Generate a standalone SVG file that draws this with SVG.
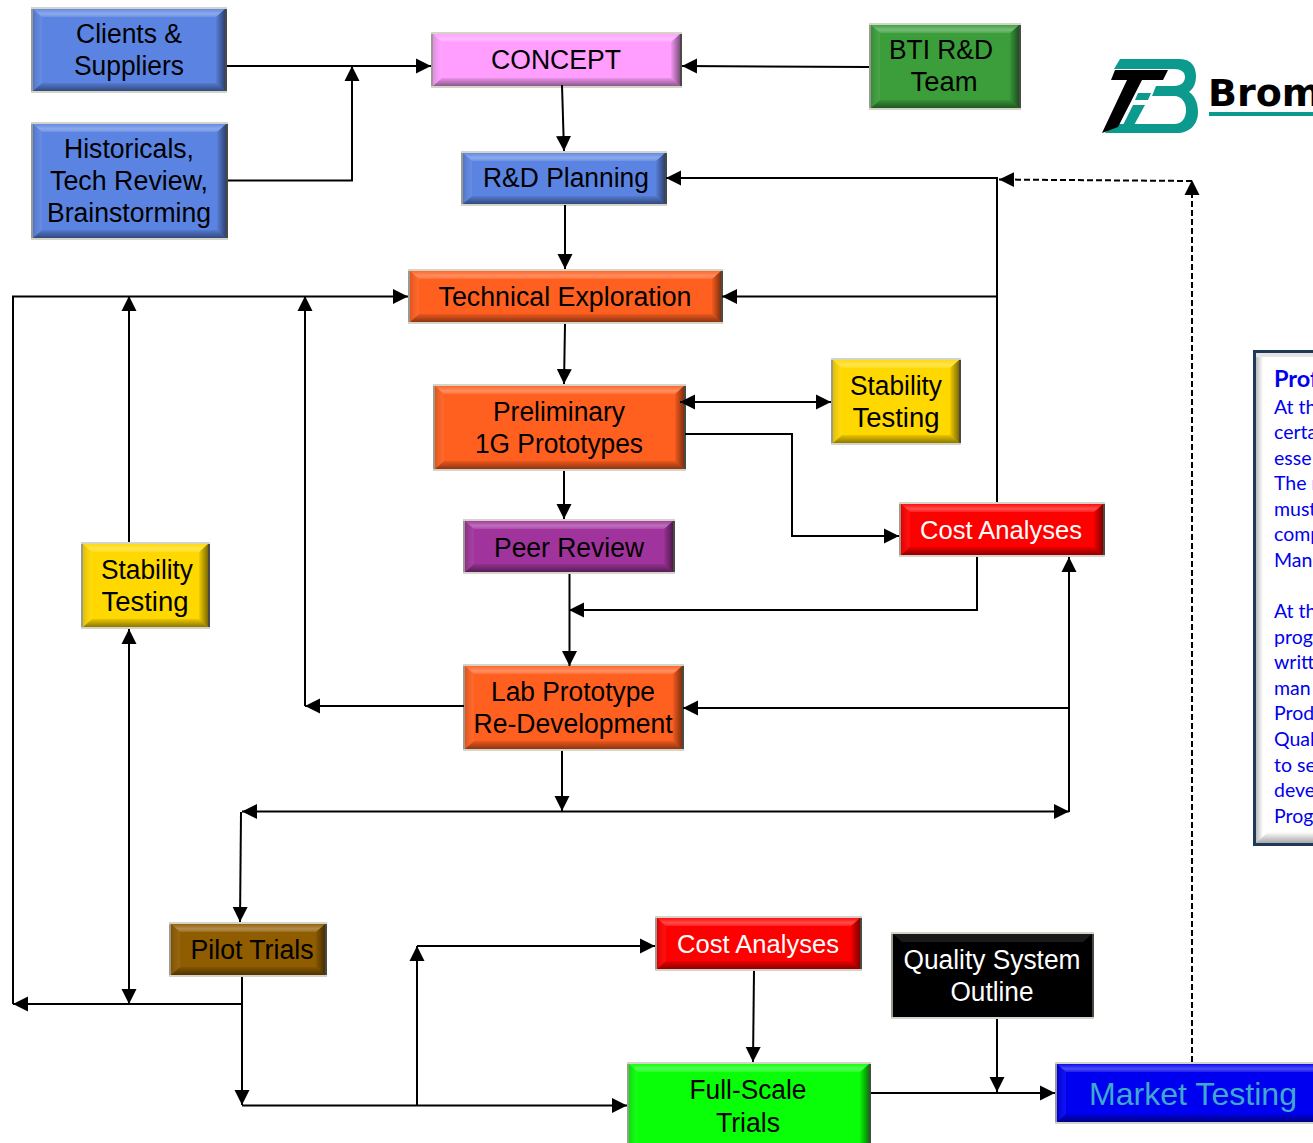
<svg xmlns="http://www.w3.org/2000/svg" width="1313" height="1143" viewBox="0 0 1313 1143">
<style>
text{font-family:"Liberation Sans",Arial,sans-serif;font-size:27px;text-anchor:middle;fill:#000}
.lt{fill:url(#gt)}.ll{fill:url(#gl)}.dk{fill:url(#gb)}.dr{fill:url(#gr)}
.o{fill:#d4d4c8}.ol{fill:#9a9a8e}.or{fill:#4a4a44}
.c{fill:none;stroke:#000;stroke-width:2}.a{marker-end:url(#ah)}.b{marker-start:url(#ah);marker-end:url(#ah)}.d{stroke-dasharray:6 3}
.blue{fill:#5b84e2}.orange{fill:#ff5f1f}.yellow{fill:#ffd800}.red{fill:#f00}
.w{fill:#fff}.s{font-size:25px}
.p{font-family:Lato,"Open Sans",sans-serif;font-size:19.5px;text-anchor:start;fill:#0000ee}
</style>
<defs>
<marker id="ah" markerUnits="userSpaceOnUse" markerWidth="16" markerHeight="16" refX="15" refY="8" orient="auto-start-reverse"><path d="M0 0.5L15 8L0 15.5Z" fill="#000"/></marker>
<linearGradient id="gt" x1="0" x2="0" y1="0" y2="1"><stop offset="0" stop-color="#fff" stop-opacity=".05"/><stop offset=".6" stop-color="#fff" stop-opacity=".3"/><stop offset="1" stop-color="#fff" stop-opacity=".12"/></linearGradient>
<linearGradient id="gb" x1="0" x2="0" y1="0" y2="1"><stop offset="0" stop-color="#000" stop-opacity=".08"/><stop offset="1" stop-color="#000" stop-opacity=".45"/></linearGradient>
<linearGradient id="gr" x1="0" x2="1" y1="0" y2="0"><stop offset="0" stop-color="#000" stop-opacity=".05"/><stop offset="1" stop-color="#000" stop-opacity=".5"/></linearGradient>
<linearGradient id="gl" x1="0" x2="1" y1="0" y2="0"><stop offset="0" stop-color="#000" stop-opacity=".12"/><stop offset="1" stop-color="#fff" stop-opacity=".06"/></linearGradient>
<linearGradient id="pl" x1="0" x2="1" y1="0" y2="0"><stop offset="0" stop-color="#bcbcbc"/><stop offset="1" stop-color="#fff"/></linearGradient>
<linearGradient id="pb" x1="0" x2="0" y1="0" y2="1"><stop offset="0" stop-color="#fff"/><stop offset="1" stop-color="#a8a8a8"/></linearGradient>
</defs>
<g id="clients"><rect class="o" x="31" y="7" width="196" height="86"/><rect class="ol" x="31" y="9" width="2" height="82"/><rect class="or" x="225" y="9" width="2" height="82"/><rect class="blue" x="33" y="9" width="192" height="82"/><path class="lt" d="M33 9H225L216 17H42Z"/><path class="dk" d="M33 91H225L216 83H42Z"/><path class="ll" d="M33 9V91L42 83V17Z"/><path class="dr" d="M225 9V91L216 83V17Z"/><text x="129" y="43" textLength="106" lengthAdjust="spacingAndGlyphs">Clients &amp;</text><text x="129" y="75" textLength="110" lengthAdjust="spacingAndGlyphs">Suppliers</text></g>
<g id="historicals"><rect class="o" x="31" y="122" width="197" height="118"/><rect class="ol" x="31" y="124" width="2" height="114"/><rect class="or" x="226" y="124" width="2" height="114"/><rect class="blue" x="33" y="124" width="193" height="114"/><path class="lt" d="M33 124H226L217 132H42Z"/><path class="dk" d="M33 238H226L217 230H42Z"/><path class="ll" d="M33 124V238L42 230V132Z"/><path class="dr" d="M226 124V238L217 230V132Z"/><text x="129" y="158" textLength="130" lengthAdjust="spacingAndGlyphs">Historicals,</text><text x="129" y="190" textLength="158" lengthAdjust="spacingAndGlyphs">Tech Review,</text><text x="129" y="222" textLength="164" lengthAdjust="spacingAndGlyphs">Brainstorming</text></g>
<g id="concept"><rect class="o" x="431" y="32" width="251" height="56"/><rect class="ol" x="431" y="34" width="2" height="52"/><rect class="or" x="680" y="34" width="2" height="52"/><rect fill="#ff9eff" x="433" y="34" width="247" height="52"/><path class="lt" d="M433 34H680L671 42H442Z"/><path class="dk" d="M433 86H680L671 78H442Z"/><path class="ll" d="M433 34V86L442 78V42Z"/><path class="dr" d="M680 34V86L671 78V42Z"/><text x="556" y="69" textLength="130" lengthAdjust="spacingAndGlyphs">CONCEPT</text></g>
<g id="bti"><rect class="o" x="869" y="23" width="152" height="87"/><rect class="ol" x="869" y="25" width="2" height="83"/><rect class="or" x="1019" y="25" width="2" height="83"/><rect fill="#3b9e3b" x="871" y="25" width="148" height="83"/><path class="lt" d="M871 25H1019L1010 33H880Z"/><path class="dk" d="M871 108H1019L1010 100H880Z"/><path class="ll" d="M871 25V108L880 100V33Z"/><path class="dr" d="M1019 25V108L1010 100V33Z"/><text x="941" y="59" textLength="104" lengthAdjust="spacingAndGlyphs">BTI R&amp;D</text><text x="944" y="91" textLength="67" lengthAdjust="spacingAndGlyphs">Team</text></g>
<g id="rd-planning"><rect class="o" x="461" y="151" width="206" height="55"/><rect class="ol" x="461" y="153" width="2" height="51"/><rect class="or" x="665" y="153" width="2" height="51"/><rect class="blue" x="463" y="153" width="202" height="51"/><path class="lt" d="M463 153H665L656 161H472Z"/><path class="dk" d="M463 204H665L656 196H472Z"/><path class="ll" d="M463 153V204L472 196V161Z"/><path class="dr" d="M665 153V204L656 196V161Z"/><text x="566" y="187" textLength="166" lengthAdjust="spacingAndGlyphs">R&amp;D Planning</text></g>
<g id="tech-exploration"><rect class="o" x="408" y="269" width="315" height="55"/><rect class="ol" x="408" y="271" width="2" height="51"/><rect class="or" x="721" y="271" width="2" height="51"/><rect class="orange" x="410" y="271" width="311" height="51"/><path class="lt" d="M410 271H721L712 279H419Z"/><path class="dk" d="M410 322H721L712 314H419Z"/><path class="ll" d="M410 271V322L419 314V279Z"/><path class="dr" d="M721 271V322L712 314V279Z"/><text x="565" y="306" textLength="253" lengthAdjust="spacingAndGlyphs">Technical Exploration</text></g>
<g id="preliminary"><rect class="o" x="433" y="384" width="253" height="87"/><rect class="ol" x="433" y="386" width="2" height="83"/><rect class="or" x="684" y="386" width="2" height="83"/><rect class="orange" x="435" y="386" width="249" height="83"/><path class="lt" d="M435 386H684L675 394H444Z"/><path class="dk" d="M435 469H684L675 461H444Z"/><path class="ll" d="M435 386V469L444 461V394Z"/><path class="dr" d="M684 386V469L675 461V394Z"/><text x="559" y="421" textLength="132" lengthAdjust="spacingAndGlyphs">Preliminary</text><text x="559" y="453" textLength="168" lengthAdjust="spacingAndGlyphs">1G Prototypes</text></g>
<g id="stability-right"><rect class="o" x="831" y="358" width="130" height="87"/><rect class="ol" x="831" y="360" width="2" height="83"/><rect class="or" x="959" y="360" width="2" height="83"/><rect class="yellow" x="833" y="360" width="126" height="83"/><path class="lt" d="M833 360H959L950 368H842Z"/><path class="dk" d="M833 443H959L950 435H842Z"/><path class="ll" d="M833 360V443L842 435V368Z"/><path class="dr" d="M959 360V443L950 435V368Z"/><text x="896" y="395" textLength="92" lengthAdjust="spacingAndGlyphs">Stability</text><text x="896" y="427" textLength="87" lengthAdjust="spacingAndGlyphs">Testing</text></g>
<g id="peer-review"><rect class="o" x="463" y="519" width="212" height="55"/><rect class="ol" x="463" y="521" width="2" height="51"/><rect class="or" x="673" y="521" width="2" height="51"/><rect fill="#a0349c" x="465" y="521" width="208" height="51"/><path class="lt" d="M465 521H673L664 529H474Z"/><path class="dk" d="M465 572H673L664 564H474Z"/><path class="ll" d="M465 521V572L474 564V529Z"/><path class="dr" d="M673 521V572L664 564V529Z"/><text x="569" y="557" textLength="150" lengthAdjust="spacingAndGlyphs">Peer Review</text></g>
<g id="cost-upper"><rect class="o" x="899" y="502" width="206" height="55"/><rect class="ol" x="899" y="504" width="2" height="51"/><rect class="or" x="1103" y="504" width="2" height="51"/><rect class="red" x="901" y="504" width="202" height="51"/><path class="lt" d="M901 504H1103L1094 512H910Z"/><path class="dk" d="M901 555H1103L1094 547H910Z"/><path class="ll" d="M901 504V555L910 547V512Z"/><path class="dr" d="M1103 504V555L1094 547V512Z"/><text class="w s" x="1001" y="539" textLength="162" lengthAdjust="spacingAndGlyphs">Cost Analyses</text></g>
<g id="lab-prototype"><rect class="o" x="463" y="664" width="221" height="87"/><rect class="ol" x="463" y="666" width="2" height="83"/><rect class="or" x="682" y="666" width="2" height="83"/><rect class="orange" x="465" y="666" width="217" height="83"/><path class="lt" d="M465 666H682L673 674H474Z"/><path class="dk" d="M465 749H682L673 741H474Z"/><path class="ll" d="M465 666V749L474 741V674Z"/><path class="dr" d="M682 666V749L673 741V674Z"/><text x="573" y="701" textLength="164" lengthAdjust="spacingAndGlyphs">Lab Prototype</text><text x="573" y="733" textLength="199" lengthAdjust="spacingAndGlyphs">Re-Development</text></g>
<g id="stability-left"><rect class="o" x="81" y="542" width="129" height="87"/><rect class="ol" x="81" y="544" width="2" height="83"/><rect class="or" x="208" y="544" width="2" height="83"/><rect class="yellow" x="83" y="544" width="125" height="83"/><path class="lt" d="M83 544H208L199 552H92Z"/><path class="dk" d="M83 627H208L199 619H92Z"/><path class="ll" d="M83 544V627L92 619V552Z"/><path class="dr" d="M208 544V627L199 619V552Z"/><text x="147" y="579" textLength="92" lengthAdjust="spacingAndGlyphs">Stability</text><text x="145" y="611" textLength="87" lengthAdjust="spacingAndGlyphs">Testing</text></g>
<g id="pilot-trials"><rect class="o" x="169" y="922" width="158" height="55"/><rect class="ol" x="169" y="924" width="2" height="51"/><rect class="or" x="325" y="924" width="2" height="51"/><rect fill="#8f5c00" x="171" y="924" width="154" height="51"/><path class="lt" d="M171 924H325L316 932H180Z"/><path class="dk" d="M171 975H325L316 967H180Z"/><path class="ll" d="M171 924V975L180 967V932Z"/><path class="dr" d="M325 924V975L316 967V932Z"/><text x="252" y="959" textLength="123" lengthAdjust="spacingAndGlyphs">Pilot Trials</text></g>
<g id="cost-lower"><rect class="o" x="655" y="916" width="207" height="55"/><rect class="ol" x="655" y="918" width="2" height="51"/><rect class="or" x="860" y="918" width="2" height="51"/><rect class="red" x="657" y="918" width="203" height="51"/><path class="lt" d="M657 918H860L851 926H666Z"/><path class="dk" d="M657 969H860L851 961H666Z"/><path class="ll" d="M657 918V969L666 961V926Z"/><path class="dr" d="M860 918V969L851 961V926Z"/><text class="w s" x="758" y="953" textLength="162" lengthAdjust="spacingAndGlyphs">Cost Analyses</text></g>
<g id="quality-system"><rect class="o" x="891" y="932" width="203" height="87"/><rect class="ol" x="891" y="934" width="2" height="83"/><rect class="or" x="1092" y="934" width="2" height="83"/><rect fill="#000" x="893" y="934" width="199" height="83"/><path fill="#fff" fill-opacity=".1" d="M893 934H1092L1083 942H902Z"/><text class="w" x="992" y="969" textLength="177" lengthAdjust="spacingAndGlyphs">Quality System</text><text class="w" x="992" y="1001" textLength="83" lengthAdjust="spacingAndGlyphs">Outline</text></g>
<g id="full-scale"><rect class="o" x="627" y="1062" width="244" height="98"/><rect class="ol" x="627" y="1064" width="2" height="94"/><rect class="or" x="869" y="1064" width="2" height="94"/><rect fill="#08ff08" x="629" y="1064" width="240" height="94"/><path class="lt" d="M629 1064H869L860 1072H638Z"/><path class="ll" d="M629 1064V1158L638 1150V1072Z"/><path class="dr" d="M869 1064V1158L860 1150V1072Z"/><text x="748" y="1099" textLength="117" lengthAdjust="spacingAndGlyphs">Full-Scale</text><text x="748" y="1132" textLength="64" lengthAdjust="spacingAndGlyphs">Trials</text></g>
<g id="market-testing"><rect class="o" x="1055" y="1062" width="285" height="62"/><rect class="ol" x="1055" y="1064" width="2" height="58"/><rect fill="#0000f0" x="1057" y="1064" width="281" height="58"/><path class="lt" d="M1057 1064H1338L1329 1072H1066Z"/><path class="dk" d="M1057 1122H1338L1329 1114H1066Z"/><path class="ll" d="M1057 1064V1122L1066 1114V1072Z"/><text x="1193" y="1105" style="fill:#3fa8cc;font-size:31.5px" textLength="208" lengthAdjust="spacingAndGlyphs">Market Testing</text></g>
<g id="connectors">
<path class="c a" d="M227 66H431"/>
<path class="c a" d="M228 180.500H352V66"/>
<path class="c a" d="M869 67L682 66"/>
<path class="c a" d="M562 85L564 151"/>
<path class="c a" d="M565 205V269"/>
<path class="c a" d="M565 324L564 384"/>
<path class="c a" d="M564 471V519"/>
<path class="c a" d="M997 502V178H666"/>
<path class="c a" d="M998 296.500H722"/>
<path class="c d a" d="M1192 1062V180"/>
<path class="c d a" d="M1192 181L999 179.500"/>
<path class="c b" d="M680 402H831"/>
<path class="c a" d="M685 434H792V536H899"/>
<path class="c a" d="M569.500 574V666"/>
<path class="c a" d="M977 557V610H569"/>
<path class="c a" d="M464 706H305"/>
<path class="c a" d="M305 706V296"/>
<path class="c a" d="M13 1004V296.500H408"/>
<path class="c a" d="M129 542V296"/>
<path class="c b" d="M129 629V1004"/>
<path class="c a" d="M242 1004H13"/>
<path class="c a" d="M242 977V1105"/>
<path class="c a" d="M242 1105.500H627"/>
<path class="c a" d="M417 1105V946"/>
<path class="c a" d="M417 946H655"/>
<path class="c a" d="M754 971L753 1062"/>
<path class="c a" d="M997 1019V1092"/>
<path class="c a" d="M871 1093H1055"/>
<path class="c a" d="M1069 708H683"/>
<path class="c a" d="M1069 812V557"/>
<path class="c a" d="M562 751V811"/>
<path class="c b" d="M242 811.500H1069"/>
<path class="c a" d="M241 812L240 922"/>
</g>
<g id="logo">
<path fill="#0d9a8e" d="M1120 59H1180C1192 59 1196 68 1196 76C1196 84 1193 89 1189 92C1194 95 1198 102 1198 112C1198 125 1189 133 1177 133H1105L1112 124H1174C1182 124 1186 118 1186 110C1186 103 1182 96 1174 96H1152L1156 86H1174C1181 86 1185 82 1185 77C1185 72 1181 69 1174 69H1114Z"/>
<path fill="#0d9a8e" d="M1138 93H1151L1148 100H1135ZM1133 105H1145L1133 127H1122Z"/>
<path fill="#000" d="M1115 70H1168L1163 80H1142L1118 127L1102 133L1127 80H1111Z"/>
<text x="1208" y="106" style="font-family:'DejaVu Sans',sans-serif;font-size:38px;font-weight:700;text-anchor:start">Brom</text>
<rect x="1209" y="112" width="104" height="4" fill="#0d9a8e"/>
</g>
<g id="profile-box">
<rect x="1253" y="350" width="80" height="496" fill="#1f3a56"/>
<rect x="1256" y="353" width="77" height="490" fill="#fff"/>
<rect x="1256" y="353" width="7" height="490" fill="url(#pl)"/>
<rect x="1256" y="353" width="77" height="4" fill="#e4e4e4"/>
<path fill="url(#pb)" d="M1256 843L1268 832H1333V843Z"/>
<text class="p" x="1274" y="387" style="font-weight:700;font-size:23.5px">Prof</text>
<text class="p" x="1274" y="414">At th</text>
<text class="p" x="1274" y="439">certa</text>
<text class="p" x="1274" y="465">esse</text>
<text class="p" x="1274" y="490">The r</text>
<text class="p" x="1274" y="516">must</text>
<text class="p" x="1274" y="541">comp</text>
<text class="p" x="1274" y="567">Man</text>
<text class="p" x="1274" y="618">At th</text>
<text class="p" x="1274" y="644">prog</text>
<text class="p" x="1274" y="669">writt</text>
<text class="p" x="1274" y="695">man</text>
<text class="p" x="1274" y="720">Prod</text>
<text class="p" x="1274" y="746">Qual</text>
<text class="p" x="1274" y="772">to se</text>
<text class="p" x="1274" y="797">deve</text>
<text class="p" x="1274" y="823">Prog</text>
</g>
</svg>
